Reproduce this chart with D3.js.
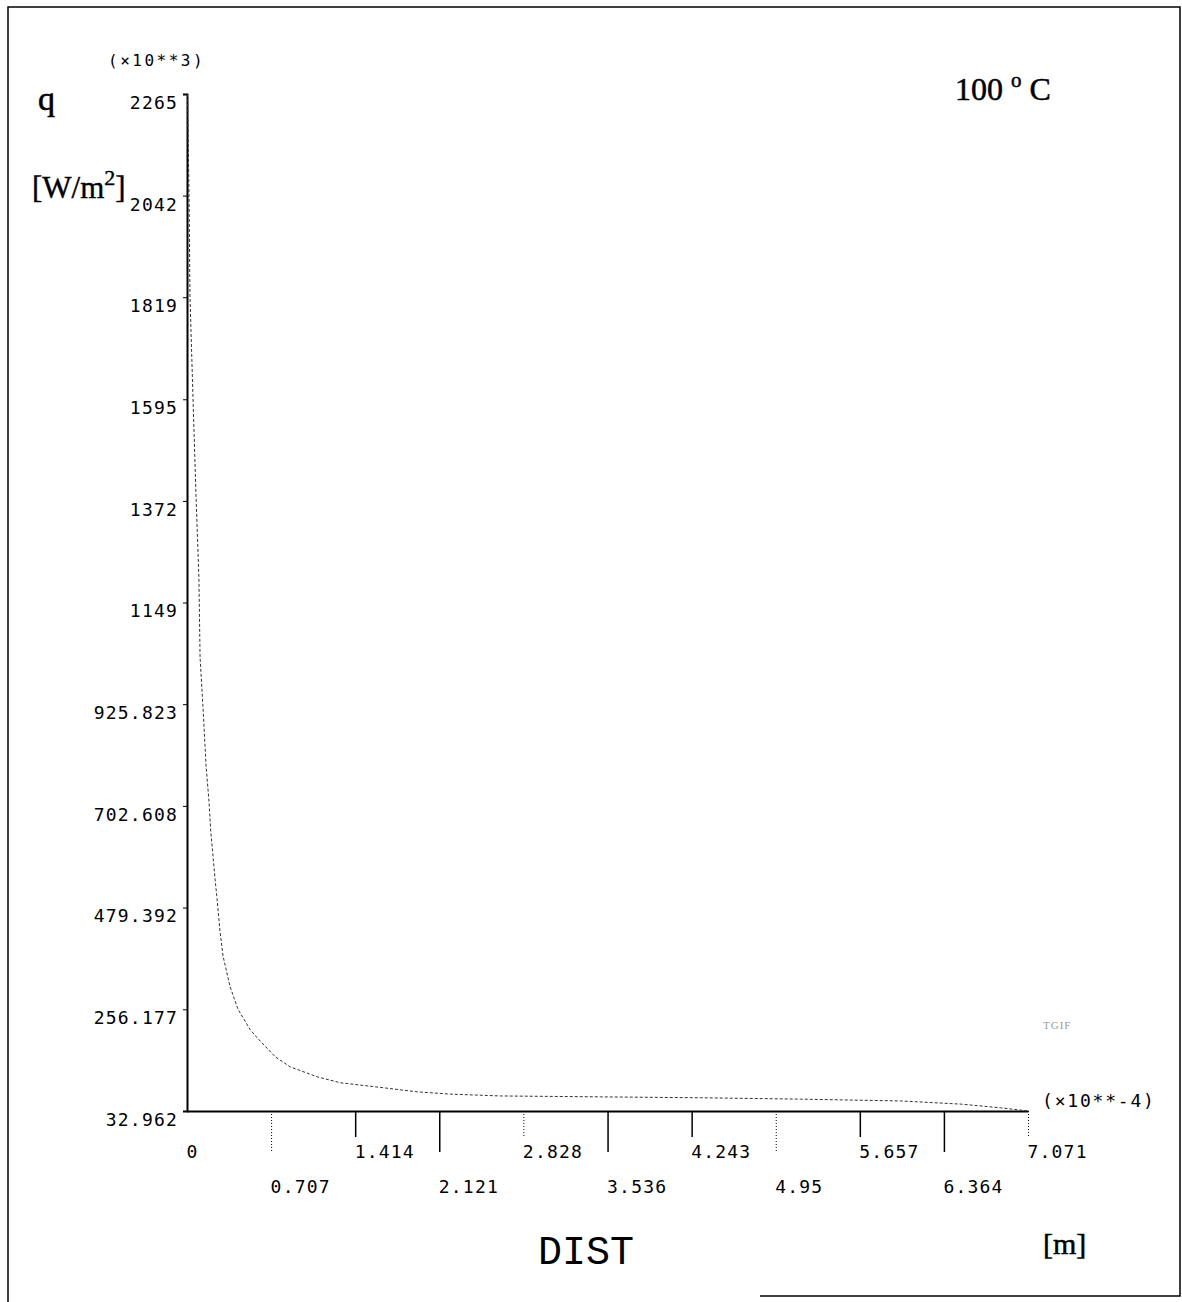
<!DOCTYPE html>
<html>
<head>
<meta charset="utf-8">
<script src="https://cdn.jsdelivr.net/npm/d3@7"></script>
<style>
  body { margin: 0; background: #fff; }
  .tick text { font-family: "DejaVu Sans Mono", monospace; }
</style>
</head>
<body>
<div class="canvas"></div>
<script>
// data (x in 10^-4 m, q in 10^3 W/m2)
const distValues = [0.004, 0.017, 0.025, 0.05, 0.076, 0.10, 0.11, 0.135, 0.16, 0.185, 0.20, 0.236, 0.253, 0.278, 0.303,
  0.362, 0.429, 0.53, 0.589, 0.741, 0.867, 1.094, 1.288, 1.65, 1.936, 2.214, 2.635, 3.477, 4.318, 5.16, 6.0, 6.51, 6.84, 7.071];
const qValues = [2265, 2042, 1822, 1601, 1381, 1204, 1028, 917, 792, 712, 646, 542, 498, 426, 373,
  306, 256, 212, 194, 152, 130, 108, 95, 84, 75, 70, 66, 64, 62, 59, 55, 48, 40, 33];

const yTicks = [32.962, 256.177, 479.392, 702.608, 925.823, 1149, 1372, 1595, 1819, 2042, 2265];
const yTickLabels = ['32.962', '256.177', '479.392', '702.608', '925.823', '1149', '1372', '1595', '1819', '2042', '2265'];
const xTicks = [0, 0.707, 1.414, 2.121, 2.828, 3.536, 4.243, 4.95, 5.657, 6.364, 7.071];
const xTickLabels = ['0', '0.707', '1.414', '2.121', '2.828', '3.536', '4.243', '4.95', '5.657', '6.364', '7.071'];

const svg = d3.select('.canvas')
    .append('svg')
        .attr('width', 1182)
        .attr('height', 1302);

// page frame
svg.append('path')
    .attr('d', 'M8,1302 L8,7 L1180,7 L1180,1296 L760,1296')
    .attr('fill', 'none')
    .attr('stroke', '#000')
    .attr('stroke-width', 1.5);

const x = d3.scaleLinear().domain([0, 7.071]).range([187, 1028]);
const y = d3.scaleLinear().domain([32.962, 2265]).range([1111, 94]);

// y axis
const yAxis = d3.axisLeft(y)
    .tickValues(yTicks)
    .tickSize(4)
    .tickPadding(5)
    .tickFormat((d, i) => yTickLabels[i]);

const yAxisGroup = svg.append('g')
    .attr('transform', `translate(${x(0)},0)`)
    .call(yAxis);
yAxisGroup.select('.domain').attr('stroke-width', 2);
yAxisGroup.selectAll('text')
    .attr('dy', '0.8em')
    .attr('font-size', 18)
    .attr('letter-spacing', 1.2)
    .attr('fill', '#000');

// x axis
const xAxis = d3.axisBottom(x)
    .tickValues(xTicks)
    .tickSize(0)
    .tickFormat((d, i) => xTickLabels[i]);

const xAxisGroup = svg.append('g')
    .attr('transform', `translate(0,${y(32.962)})`)
    .call(xAxis);
xAxisGroup.select('.domain').attr('stroke-width', 2);
xAxisGroup.selectAll('.tick line')
    .attr('y2', (d, i) => i % 2 ? 41 : 26)
    .attr('stroke-width', (d, i) => i % 3 === 1 ? 1 : 1.5)
    .attr('stroke-dasharray', (d, i) => i % 3 === 1 ? '1,2' : null)
    .attr('display', (d, i) => i === 0 ? 'none' : null);
xAxisGroup.selectAll('.tick text')
    .attr('text-anchor', 'start')
    .attr('x', -1)
    .attr('y', (d, i) => i % 2 ? 82 : 47)
    .attr('dy', 0)
    .attr('font-size', 18)
    .attr('letter-spacing', 1.2)
    .attr('fill', '#000');

// curve
const line = d3.line()
    .x((d, i) => x(distValues[i]))
    .y(d => y(d));

svg.append('path')
    .datum(qValues)
    .attr('d', line)
    .attr('fill', 'none')
    .attr('stroke', '#333')
    .attr('stroke-width', 1)
    .attr('stroke-dasharray', '3,2');

// labels
const mono = '"DejaVu Sans Mono", monospace';
const serif = '"Liberation Serif", "Times New Roman", serif';

svg.append('text').attr('x', 108).attr('y', 66)
    .attr('font-family', mono).attr('font-size', 16).attr('letter-spacing', 2.5)
    .text('(\u00d710**3)');

svg.append('text').attr('x', 1042).attr('y', 1107)
    .attr('font-family', mono).attr('font-size', 18).attr('letter-spacing', 1.8)
    .text('(\u00d710**-4)');

svg.append('text').attr('x', 38).attr('y', 110)
    .attr('font-family', serif).attr('font-size', 34)
    .attr('stroke', '#000').attr('stroke-width', 0.6)
    .text('q');

const unitY = svg.append('text').attr('x', 32).attr('y', 198)
    .attr('font-family', serif).attr('font-size', 31)
    .attr('stroke', '#000').attr('stroke-width', 0.4);
unitY.append('tspan').text('[W/m');
unitY.append('tspan').attr('dy', -13).attr('font-size', 22).text('2');
unitY.append('tspan').attr('dy', 13).text(']');

const temp = svg.append('text').attr('x', 955).attr('y', 100)
    .attr('font-family', serif).attr('font-size', 32)
    .attr('stroke', '#000').attr('stroke-width', 0.5);
temp.append('tspan').text('100 ');
temp.append('tspan').attr('dy', -13).attr('font-size', 21).text('o');
temp.append('tspan').attr('dy', 13).text(' C');

svg.append('text').attr('x', 538).attr('y', 1264)
    .attr('font-family', '"Liberation Mono", monospace').attr('font-size', 40)
    .attr('fill', '#000')
    .attr('letter-spacing', 0)
    .text('DIST');

svg.append('text').attr('x', 1043).attr('y', 1254)
    .attr('font-family', serif).attr('font-size', 30)
    .attr('stroke', '#000').attr('stroke-width', 0.5)
    .text('[m]');

svg.append('text').attr('x', 1043).attr('y', 1029)
    .attr('font-family', serif).attr('font-size', 11).attr('fill', '#999')
    .attr('letter-spacing', 1)
    .text('TGIF');
</script>
</body>
</html>
